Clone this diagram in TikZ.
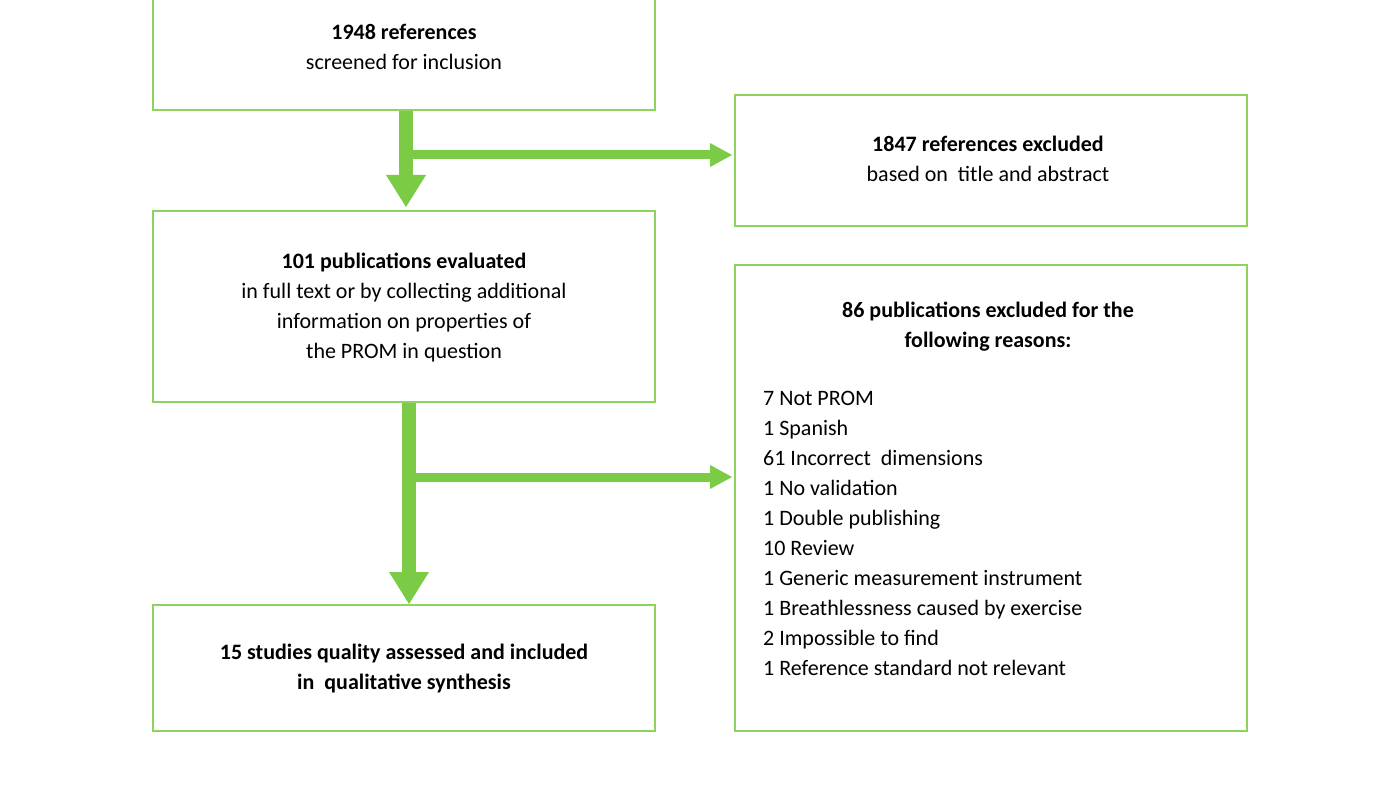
\documentclass[tikz,border=0pt]{standalone}
\usepackage{fontspec}
\setmainfont{Carlito}
\usetikzlibrary{arrows.meta}
\definecolor{gb}{HTML}{8DD35F}
\definecolor{ga}{HTML}{7CCB46}
\begin{document}
\begin{tikzpicture}[x=1pt,y=-1pt,
  box/.style={draw=gb,line width=2pt},
  txt/.style={font=\fontsize{22}{30}\selectfont,align=center,inner sep=0},
  lst/.style={font=\fontsize{22}{30}\selectfont,align=left,inner sep=0,anchor=north west},
  vline/.style={draw=ga,line width=14pt},
  hline/.style={draw=ga,line width=9pt}]
\useasboundingbox (0,0) rectangle (1400,786);
\fill[white] (0,0) rectangle (1400,786);
\draw[box] (153,-10) rectangle (655,110);
\node[txt] (t1) at (404,47) {\textbf{1948 references}\\screened for inclusion};
\draw[box] (735,95) rectangle (1247,226);
\node[txt] (t2) at (988,159) {\textbf{1847 references excluded}\\based on\ \ title and abstract};
\draw[box] (153,211) rectangle (655,402);
\node[txt] (t3) at (404,308) {\textbf{101 publications evaluated}\\in full text or by collecting additional\\information on properties of\\the PROM in question};
\draw[box] (735,265) rectangle (1247,731);
\node[txt] (t4) at (988,327) {\textbf{86 publications excluded for the}\\\textbf{following reasons:}};
\node[lst] (l4) at (763,391) {7 Not PROM\\1 Spanish\\61 Incorrect\ \ dimensions\\1 No validation\\1 Double publishing\\10 Review\\1 Generic measurement instrument\\1 Breathlessness caused by exercise\\2 Impossible to find\\1 Reference standard not relevant};
\draw[box] (153,605) rectangle (655,731);
\node[txt] (t5) at (404,669) {\textbf{15 studies quality assessed and included}\\\textbf{in\ \ qualitative synthesis}};
% arrows
\coordinate (a1s) at (406,111); \coordinate (a1e) at (406,176);
\draw[vline] (a1s) -- (a1e);
\fill[ga] (386,175) -- (426,175) -- (406,207) -- cycle;
\coordinate (h1s) at (413,155); \coordinate (h1e) at (712,155);
\draw[hline] (h1s) -- (h1e);
\fill[ga] (710,143) -- (732,155) -- (710,167) -- cycle;
\coordinate (a2s) at (409,403); \coordinate (a2e) at (409,573);
\draw[vline] (a2s) -- (a2e);
\fill[ga] (389,572) -- (429,572) -- (409,604) -- cycle;
\coordinate (h2s) at (416,477); \coordinate (h2e) at (712,477);
\draw[hline] (h2s) -- (h2e);
\fill[ga] (710,465) -- (732,477) -- (710,489) -- cycle;
\end{tikzpicture}
\end{document}
